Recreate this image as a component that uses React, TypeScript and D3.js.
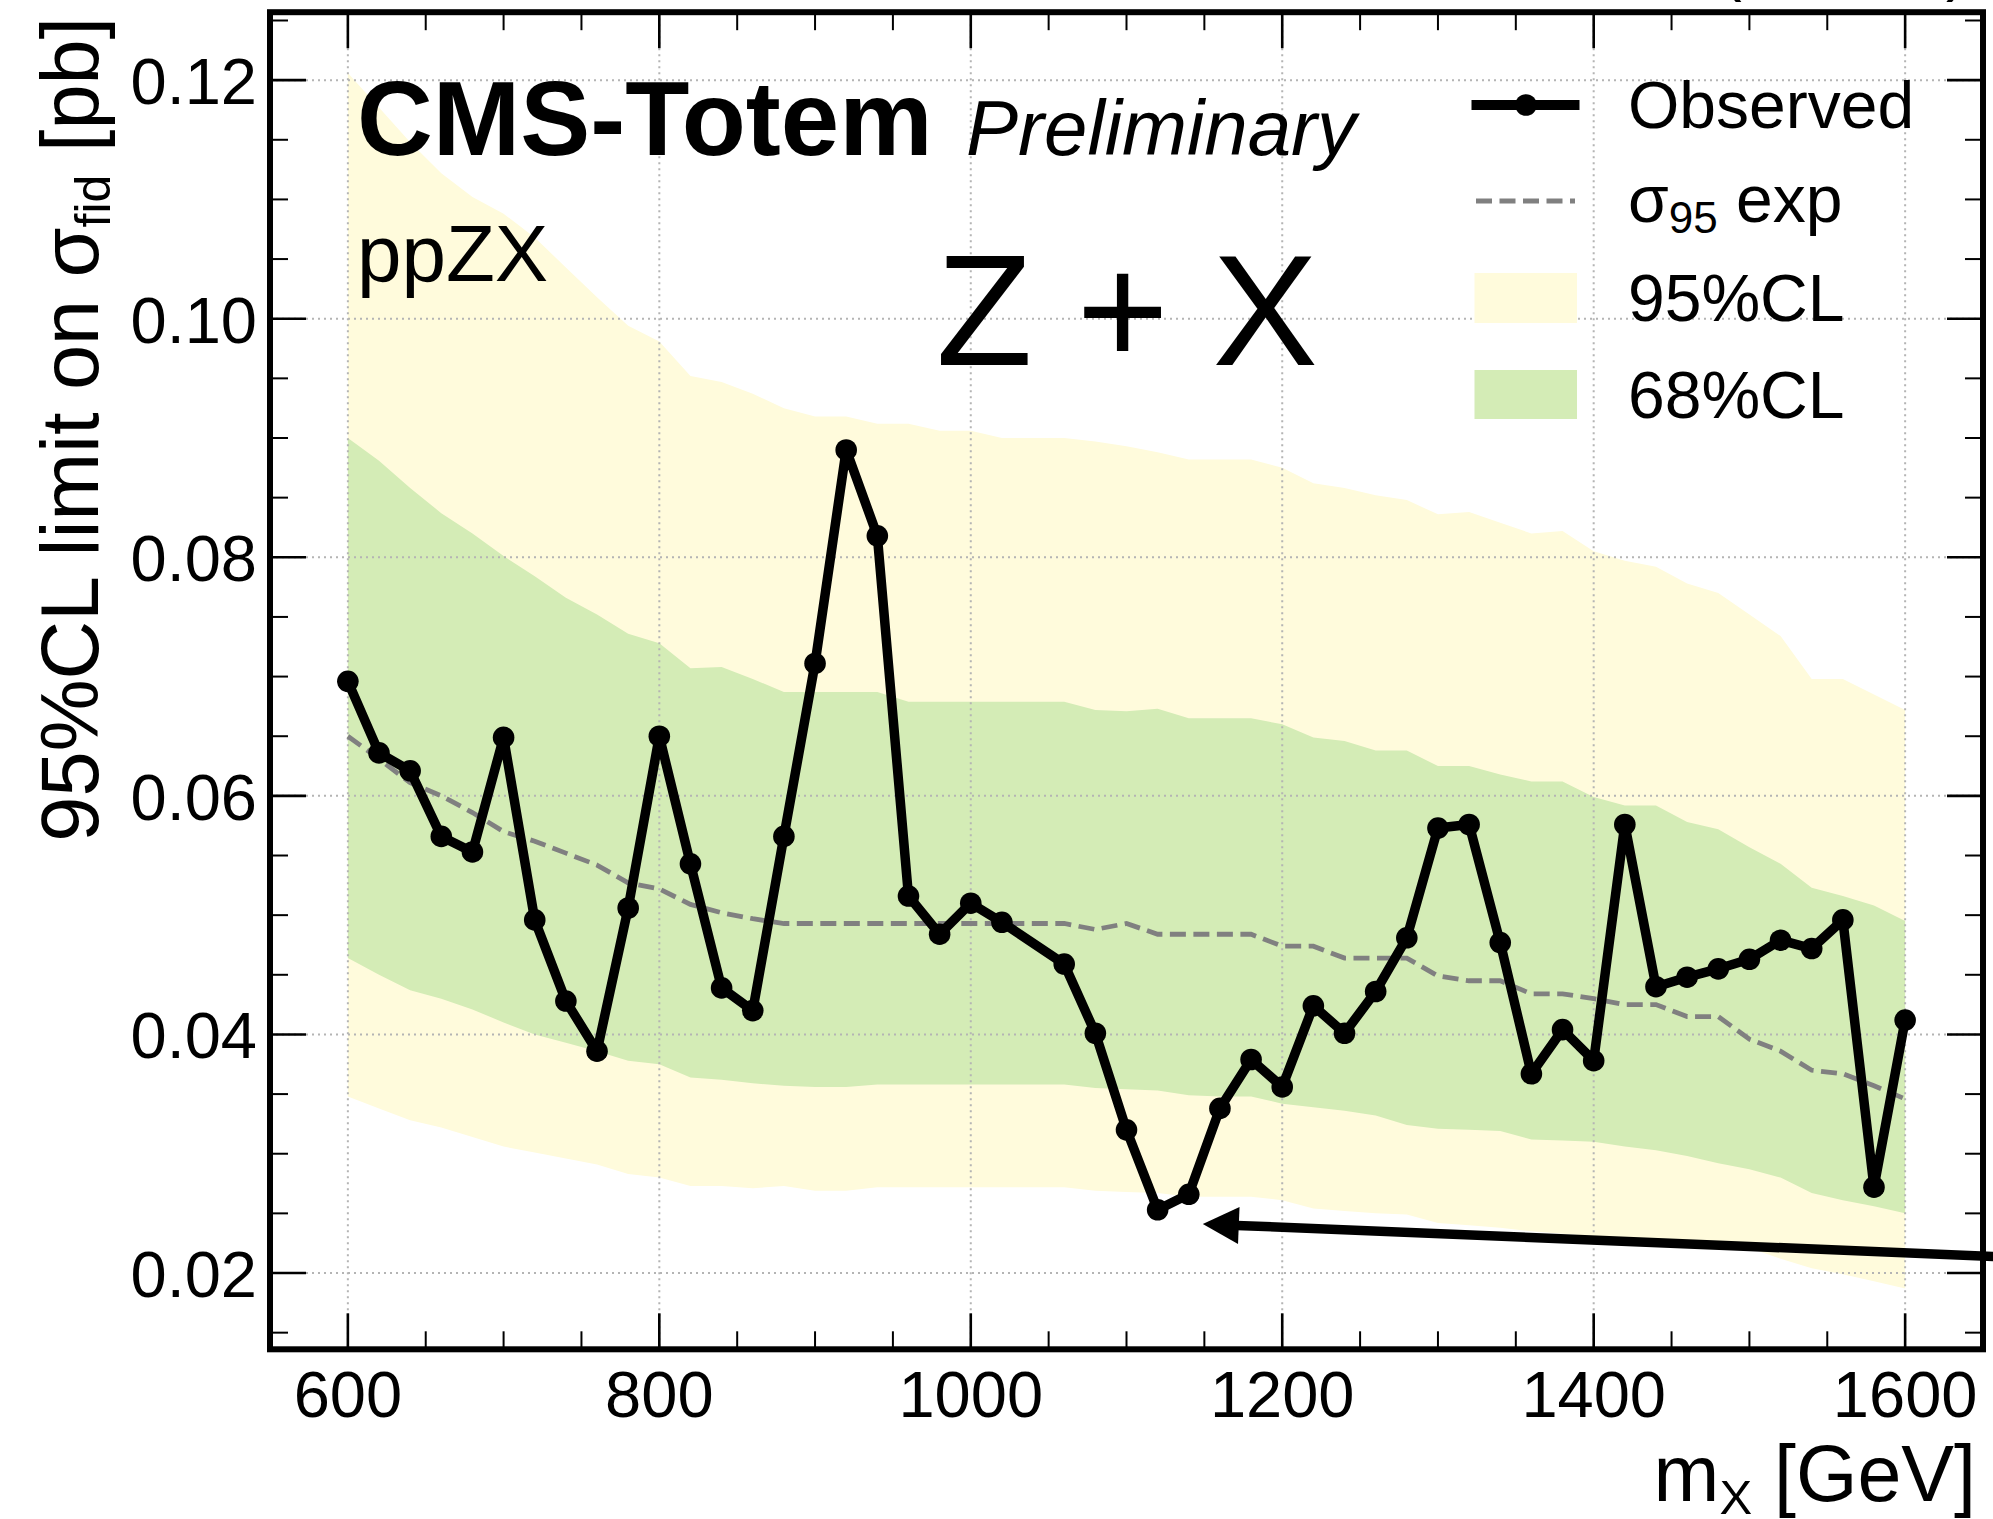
import React from 'react';
import * as d3 from 'd3';

// ---- data ----
const masses = [600, 620, 640, 660, 680, 700, 720, 740, 760, 780, 800, 820, 840, 860, 880, 900, 920, 940, 960, 980, 1000, 1020, 1040, 1060, 1080, 1100, 1120, 1140, 1160, 1180, 1200, 1220, 1240, 1260, 1280, 1300, 1320, 1340, 1360, 1380, 1400, 1420, 1440, 1460, 1480, 1500, 1520, 1540, 1560, 1580, 1600];

const yellowHigh = [0.1206, 0.1177, 0.1148, 0.1122, 0.1102, 0.1088, 0.1068, 0.1043, 0.1018, 0.0994, 0.0981, 0.0952, 0.0947, 0.0937, 0.0925, 0.0918, 0.0918, 0.0912, 0.0912, 0.0906, 0.0906, 0.0900, 0.0900, 0.0900, 0.0897, 0.0893, 0.0888, 0.0882, 0.0882, 0.0882, 0.0875, 0.0862, 0.0858, 0.0852, 0.0848, 0.0836, 0.0838, 0.0829, 0.0820, 0.0822, 0.0805, 0.0797, 0.0792, 0.0778, 0.0770, 0.0752, 0.0734, 0.0698, 0.0698, 0.0685, 0.0672];

const greenHigh = [0.0900, 0.0881, 0.0858, 0.0837, 0.0820, 0.0801, 0.0784, 0.0766, 0.0752, 0.0736, 0.0728, 0.0707, 0.0708, 0.0698, 0.0687, 0.0687, 0.0687, 0.0687, 0.0679, 0.0679, 0.0679, 0.0679, 0.0679, 0.0679, 0.0672, 0.0671, 0.0673, 0.0665, 0.0665, 0.0665, 0.0660, 0.0649, 0.0646, 0.0638, 0.0638, 0.0625, 0.0625, 0.0618, 0.0612, 0.0612, 0.0599, 0.0592, 0.0592, 0.0578, 0.0572, 0.0557, 0.0543, 0.0523, 0.0516, 0.0508, 0.0495];

const greenLow = [0.0464, 0.0450, 0.0437, 0.0430, 0.0421, 0.0410, 0.0400, 0.0393, 0.0386, 0.0378, 0.0375, 0.0364, 0.0362, 0.0359, 0.0357, 0.0356, 0.0356, 0.0358, 0.0358, 0.0358, 0.0358, 0.0358, 0.0358, 0.0358, 0.0355, 0.0354, 0.0353, 0.0349, 0.0348, 0.0348, 0.0342, 0.0339, 0.0336, 0.0332, 0.0324, 0.0321, 0.0320, 0.0319, 0.0312, 0.0311, 0.0310, 0.0306, 0.0303, 0.0298, 0.0292, 0.0287, 0.0280, 0.0267, 0.0261, 0.0256, 0.0250];

const yellowLow = [0.0348, 0.0338, 0.0328, 0.0322, 0.0314, 0.0306, 0.0301, 0.0296, 0.0291, 0.0283, 0.0280, 0.0273, 0.0273, 0.0271, 0.0273, 0.0269, 0.0269, 0.0272, 0.0272, 0.0272, 0.0272, 0.0272, 0.0272, 0.0272, 0.0269, 0.0268, 0.0267, 0.0264, 0.0264, 0.0264, 0.0261, 0.0254, 0.0252, 0.0250, 0.0249, 0.0242, 0.0240, 0.0238, 0.0235, 0.0233, 0.0231, 0.0229, 0.0228, 0.0226, 0.0224, 0.0221, 0.0212, 0.0204, 0.0199, 0.0193, 0.0187];

const expected = [0.0650, 0.0631, 0.0611, 0.0600, 0.0586, 0.0570, 0.0562, 0.0552, 0.0542, 0.0527, 0.0522, 0.0509, 0.0502, 0.0497, 0.0493, 0.0493, 0.0493, 0.0493, 0.0493, 0.0493, 0.0493, 0.0493, 0.0493, 0.0493, 0.0488, 0.0493, 0.0484, 0.0484, 0.0484, 0.0484, 0.0474, 0.0474, 0.0464, 0.0464, 0.0464, 0.0449, 0.0445, 0.0445, 0.0434, 0.0434, 0.0430, 0.0425, 0.0425, 0.0415, 0.0415, 0.0396, 0.0386, 0.0370, 0.0367, 0.0357, 0.0346];

const obsMasses = [600, 620, 640, 660, 680, 700, 720, 740, 760, 780, 800, 820, 840, 860, 880, 900, 920, 940, 960, 980, 1000, 1020, 1060, 1080, 1100, 1120, 1140, 1160, 1180, 1200, 1220, 1240, 1260, 1280, 1300, 1320, 1340, 1360, 1380, 1400, 1420, 1440, 1460, 1480, 1500, 1520, 1540, 1560, 1580, 1600];
const observed = [0.0696, 0.0636, 0.0621, 0.0566, 0.0553, 0.0649, 0.0496, 0.0428, 0.0386, 0.0506, 0.0650, 0.0543, 0.0439, 0.0420, 0.0566, 0.0711, 0.0890, 0.0818, 0.0516, 0.0484, 0.0510, 0.0494, 0.0459, 0.0401, 0.0320, 0.0253, 0.0266, 0.0338, 0.0379, 0.0356, 0.0424, 0.0401, 0.0436, 0.0481, 0.0573, 0.0576, 0.0477, 0.0367, 0.0404, 0.0378, 0.0576, 0.0440, 0.0448, 0.0455, 0.0463, 0.0479, 0.0472, 0.0496, 0.0272, 0.0412];

const xTickValues = [600, 800, 1000, 1200, 1400, 1600];
const xTickLabels = ['600', '800', '1000', '1200', '1400', '1600'];
const yTickValues = [0.02, 0.04, 0.06, 0.08, 0.10, 0.12];
const yTickLabels = ['0.02', '0.04', '0.06', '0.08', '0.10', '0.12'];

// annotation arrow (data coordinates): from outside right edge to near the minimum
const arrowFrom = { m: 1700, v: 0.02116 };
const arrowTo = { m: 1149, v: 0.02411 };

const FONT = '"Liberation Sans", Arial, Helvetica, sans-serif';
const YELLOW = '#FFFBDC';
const GREEN = '#D4ECB6';

export default function App() {
  const W = 1993, H = 1519;
  const left = 270, right = 1983, top = 12.2, bottom = 1349.3;

  const xExt = d3.extent(masses) as [number, number];
  const xPad = (xExt[1] - xExt[0]) * 0.05;
  const x = d3.scaleLinear().domain([xExt[0] - xPad, xExt[1] + xPad]).range([left, right]);

  const allY = [...yellowLow, ...yellowHigh, ...observed, ...expected];
  const yMin = d3.min(allY) as number, yMax = d3.max(allY) as number;
  const yPad = (yMax - yMin) * 0.05;
  const y = d3.scaleLinear().domain([yMin - yPad, yMax + yPad]).range([bottom, top]);

  const idx = masses.map((_, i) => i);
  const yellowArea = d3.area<number>().x(i => x(masses[i])).y0(i => y(yellowLow[i])).y1(i => y(yellowHigh[i]))(idx) || '';
  const greenArea = d3.area<number>().x(i => x(masses[i])).y0(i => y(greenLow[i])).y1(i => y(greenHigh[i]))(idx) || '';
  const expLine = d3.line<number>().x(i => x(masses[i])).y(i => y(expected[i]))(idx) || '';
  const obsIdx = obsMasses.map((_, i) => i);
  const obsLine = d3.line<number>().x(i => x(obsMasses[i])).y(i => y(observed[i]))(obsIdx) || '';

  const [xd0, xd1] = x.domain();
  const [yd0, yd1] = y.domain();
  const xMinor = d3.range(550, 1651, 50).filter(v => v > xd0 && v < xd1 && !xTickValues.includes(v));
  const yMinor = d3.range(0.015, 0.1251, 0.005).map(v => +v.toFixed(3)).filter(v => v > yd0 && v < yd1 && !yTickValues.some(t => Math.abs(t - v) < 1e-6));

  const majLen = 36, minLen = 18;

  // arrow geometry
  const ax1 = x(arrowFrom.m), ay1 = y(arrowFrom.v);
  const ax2 = x(arrowTo.m), ay2 = y(arrowTo.v);
  const ang = Math.atan2(ay2 - ay1, ax2 - ax1);
  const headL = 36, headW = 18.5;
  const bx = ax2 - headL * Math.cos(ang), by = ay2 - headL * Math.sin(ang);
  const px = -Math.sin(ang), py = Math.cos(ang);
  const head = `M${ax2},${ay2}L${bx + px * headW},${by + py * headW}L${bx - px * headW},${by - py * headW}Z`;

  const tickLabelSize = 65;
  const legendSize = 66;
  const obsWidth = 9.5;
  const markerR = 10.8;
  const expWidth = 4.8;

  return (
    <svg width={W} height={H} viewBox={`0 0 ${W} ${H}`} style={{ position: 'absolute', left: 0, top: 0, background: '#fff' }} fontFamily={FONT}>
      <rect x={0} y={0} width={W} height={H} fill="#fff" />
      {/* bands */}
      <path d={yellowArea} fill={YELLOW} stroke="none" />
      <path d={greenArea} fill={GREEN} stroke="none" />

      {/* grid */}
      <g stroke="#b4b4b4" strokeWidth={2} strokeDasharray="2 4">
        {xTickValues.map(v => <line key={'gx' + v} x1={x(v)} x2={x(v)} y1={top} y2={bottom} />)}
        {yTickValues.map(v => <line key={'gy' + v} x1={left} x2={right} y1={y(v)} y2={y(v)} />)}
      </g>

      {/* expected */}
      <path d={expLine} fill="none" stroke="#808080" strokeWidth={expWidth} strokeDasharray="16 7.5" />

      {/* observed */}
      <path d={obsLine} fill="none" stroke="#000" strokeWidth={obsWidth} strokeLinejoin="round" />
      {obsMasses.map((m, i) => <circle key={'o' + m} cx={x(m)} cy={y(observed[i])} r={markerR} fill="#000" />)}

      {/* arrow annotation */}
      <line x1={ax1} y1={ay1} x2={bx + 2 * Math.cos(ang)} y2={by + 2 * Math.sin(ang)} stroke="#000" strokeWidth={9.5} />
      <path d={head} fill="#000" />

      {/* spines */}
      <rect x={left} y={top} width={right - left} height={bottom - top} fill="none" stroke="#000" strokeWidth={6} />

      {/* ticks */}
      <g stroke="#000">
        {xTickValues.map(v => (
          <g key={'tx' + v} strokeWidth={2.6}>
            <line x1={x(v)} x2={x(v)} y1={bottom} y2={bottom - majLen} />
            <line x1={x(v)} x2={x(v)} y1={top} y2={top + majLen} />
          </g>
        ))}
        {xMinor.map(v => (
          <g key={'mx' + v} strokeWidth={2}>
            <line x1={x(v)} x2={x(v)} y1={bottom} y2={bottom - minLen} />
            <line x1={x(v)} x2={x(v)} y1={top} y2={top + minLen} />
          </g>
        ))}
        {yTickValues.map(v => (
          <g key={'ty' + v} strokeWidth={2.6}>
            <line x1={left} x2={left + majLen} y1={y(v)} y2={y(v)} />
            <line x1={right} x2={right - majLen} y1={y(v)} y2={y(v)} />
          </g>
        ))}
        {yMinor.map(v => (
          <g key={'my' + v} strokeWidth={2}>
            <line x1={left} x2={left + minLen} y1={y(v)} y2={y(v)} />
            <line x1={right} x2={right - minLen} y1={y(v)} y2={y(v)} />
          </g>
        ))}
      </g>

      {/* tick labels */}
      <g fontSize={tickLabelSize} fill="#000">
        {xTickValues.map((v, i) => (
          <text key={'lx' + v} x={x(v)} y={bottom + 68} textAnchor="middle">{xTickLabels[i]}</text>
        ))}
        {yTickValues.map((v, i) => (
          <text key={'ly' + v} x={left - 13} y={y(v) + 24} textAnchor="end">{yTickLabels[i]}</text>
        ))}
      </g>

      {/* axis labels */}
      <text x={1976} y={1501} fontSize={79} textAnchor="end" style={{ whiteSpace: 'pre' }}>
        m<tspan fontSize={49} dy={13}>X</tspan><tspan dy={-13}> [GeV]</tspan>
      </text>
      <text transform="translate(98,17) rotate(-90)" fontSize={81} textAnchor="end" style={{ whiteSpace: 'pre' }}>
        95%CL limit on σ<tspan fontSize={50} dy={12}>fid</tspan><tspan dy={-12}> [pb]</tspan>
      </text>

      {/* lumi text (mostly cut off at the top) */}
      <text x={1968} y={-12} fontSize={66} textAnchor="end">(13 TeV)</text>

      {/* labels inside */}
      <text x={357} y={155} fontSize={105} fontWeight="bold">CMS-Totem</text>
      <text x={966} y={155} fontSize={78} fontStyle="italic">Preliminary</text>
      <text x={357} y={281} fontSize={80}>ppZX</text>
      <text x={1127} y={365} fontSize={158} textAnchor="middle">Z + X</text>

      {/* legend */}
      <g>
        <line x1={1471.5} x2={1579.5} y1={105} y2={105} stroke="#000" strokeWidth={10} />
        <circle cx={1526} cy={105} r={markerR} fill="#000" />
        <text x={1628} y={128} fontSize={legendSize}>Observed</text>

        <line x1={1476} x2={1575} y1={201} y2={201} stroke="#808080" strokeWidth={expWidth} strokeDasharray="16 7.5" />
        <text x={1628} y={222} fontSize={legendSize} style={{ whiteSpace: 'pre' }}>
          σ<tspan fontSize={44} dy={11}>95</tspan><tspan dy={-11}> exp</tspan>
        </text>

        <rect x={1474.5} y={273} width={102.5} height={50} fill={YELLOW} />
        <text x={1628} y={321} fontSize={legendSize}>95%CL</text>

        <rect x={1474.5} y={370} width={102.5} height={49} fill={GREEN} />
        <text x={1628} y={418} fontSize={legendSize}>68%CL</text>
      </g>
    </svg>
  );
}
